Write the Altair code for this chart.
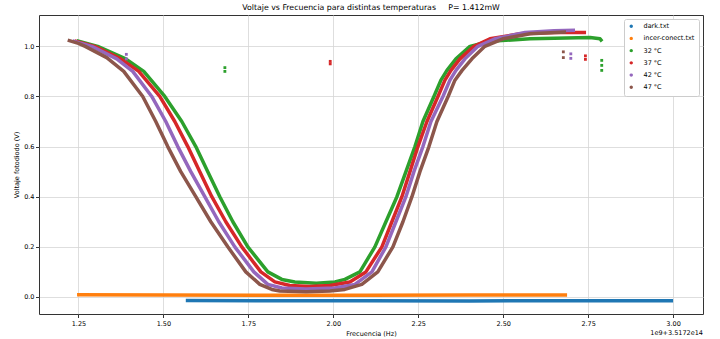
import altair as alt
import pandas as pd

series_names = ["dark.txt", "incer-conect.txt", "32 °C", "37 °C", "42 °C", "47 °C"]
series_colors = ["#1f77b4", "#ff7f0e", "#2ca02c", "#d62728", "#9467bd", "#8c564b"]

# frequency in units of 1e9 Hz above 3.5172e14 Hz, voltage in V
dark_f = [1.566, 1.80, 2.10, 2.40, 2.70, 3.000]
dark_v = [-0.014, -0.015, -0.015, -0.016, -0.015, -0.015]

incer_f = [1.246, 1.50, 1.80, 2.10, 2.40, 2.688]
incer_v = [0.009, 0.008, 0.007, 0.007, 0.008, 0.008]

t32_f = [1.245, 1.3068, 1.3893, 1.4423, 1.5041, 1.5542, 1.5954, 1.6307, 1.6661, 1.7044,
         1.7485, 1.8074, 1.8486, 1.8869, 1.95, 2.0047, 2.0342, 2.0783, 2.1225, 2.1549,
         2.1873, 2.2138, 2.2403, 2.2638, 2.2962, 2.3168, 2.3345, 2.361, 2.4022, 2.4611,
         2.5789, 2.7556, 2.7851, 2.791]
t32_v = [1.022, 1.0, 0.95, 0.9, 0.8, 0.7, 0.6, 0.5, 0.4, 0.3,
         0.2, 0.1, 0.07, 0.06, 0.055, 0.06, 0.07, 0.1, 0.2, 0.3,
         0.4, 0.5, 0.6, 0.7, 0.8, 0.865, 0.904, 0.95, 1.0, 1.02,
         1.03, 1.035, 1.03, 1.02]

t37_f = [1.2391, 1.298, 1.3746, 1.4276, 1.4894, 1.5336, 1.5719, 1.6072, 1.6425, 1.6837,
         1.7308, 1.7868, 1.828, 1.8722, 1.93, 1.99, 2.0489, 2.096, 2.1431, 2.1725,
         2.202, 2.2256, 2.2491, 2.2756, 2.308, 2.3286, 2.3463, 2.3728, 2.414, 2.4611,
         2.5495, 2.65, 2.7438]
t37_v = [1.022, 1.0, 0.95, 0.9, 0.8, 0.7, 0.6, 0.5, 0.4, 0.3,
         0.2, 0.1, 0.06, 0.046, 0.042, 0.046, 0.06, 0.1, 0.2, 0.3,
         0.4, 0.5, 0.6, 0.7, 0.8, 0.865, 0.904, 0.95, 1.0, 1.03,
         1.05, 1.055, 1.055]

t42_f = [1.2332, 1.2892, 1.3628, 1.4099, 1.4658, 1.5071, 1.5424, 1.5807, 1.6219, 1.6631,
         1.7102, 1.7662, 1.8074, 1.8486, 1.92, 2.0047, 2.0636, 2.1137, 2.1549, 2.1843,
         2.2138, 2.2373, 2.2638, 2.2874, 2.3227, 2.3433, 2.361, 2.3875, 2.4258, 2.4758,
         2.5642, 2.65, 2.7114]
t42_v = [1.022, 1.0, 0.95, 0.9, 0.8, 0.7, 0.6, 0.5, 0.4, 0.3,
         0.2, 0.1, 0.05, 0.036, 0.032, 0.036, 0.05, 0.1, 0.2, 0.3,
         0.4, 0.5, 0.6, 0.7, 0.8, 0.865, 0.904, 0.95, 1.0, 1.03,
         1.055, 1.062, 1.064]

t47_f = [1.2185, 1.25, 1.27, 1.3333, 1.3834, 1.4393, 1.4776, 1.5129, 1.5512, 1.5954,
         1.6396, 1.6896, 1.7426, 1.7838, 1.8192, 1.8427, 1.92, 1.99, 2.034, 2.084,
         2.131, 2.1755, 2.205, 2.2315, 2.255, 2.2815, 2.305, 2.338, 2.358, 2.379,
         2.408, 2.446, 2.499, 2.579, 2.685]
t47_v = [1.025, 1.012, 1.0, 0.955, 0.9, 0.8, 0.7, 0.6, 0.5, 0.4,
         0.3, 0.2, 0.1, 0.05, 0.03, 0.024, 0.021, 0.024, 0.03, 0.05,
         0.1, 0.2, 0.3, 0.4, 0.5, 0.6, 0.7, 0.8, 0.865, 0.904,
         0.95, 1.0, 1.03, 1.05, 1.057]

# isolated points away from the curves
out_serie = ["32 °C", "32 °C", "32 °C", "32 °C", "32 °C",
             "37 °C", "37 °C", "37 °C", "37 °C",
             "42 °C", "42 °C", "42 °C", "42 °C",
             "47 °C", "47 °C"]
out_f = [1.681, 1.681, 2.790, 2.790, 2.790,
         1.991, 1.991, 2.742, 2.742,
         2.699, 2.699, 1.391, 1.391,
         2.677, 2.677]
out_v = [0.915, 0.900, 0.944, 0.924, 0.904,
         0.940, 0.930, 0.962, 0.948,
         0.970, 0.952, 0.968, 0.950,
         0.978, 0.955]

x_ticks = [1.25, 1.50, 1.75, 2.00, 2.25, 2.50, 2.75, 3.00]
y_ticks = [0.0, 0.2, 0.4, 0.6, 0.8, 1.0]

title_text = "Voltaje vs Frecuencia para distintas temperaturas\u00a0\u00a0\u00a0\u00a0\u00a0P= 1.412mW"
offset_text = "1e9+3.5172e14"

curves = [
    ("dark.txt", dark_f, dark_v),
    ("incer-conect.txt", incer_f, incer_v),
    ("32 °C", t32_f, t32_v),
    ("37 °C", t37_f, t37_v),
    ("42 °C", t42_f, t42_v),
    ("47 °C", t47_f, t47_v),
]
rows = []
for name, fs, vs in curves:
    for i, (f, v) in enumerate(zip(fs, vs)):
        rows.append({"serie": name, "f": f, "v": v, "i": i})
df = pd.DataFrame(rows)
out_df = pd.DataFrame({"serie": out_serie, "f": out_f, "v": out_v})

FONT = "DejaVu Sans"
xenc = alt.X("f:Q",
             scale=alt.Scale(domain=[1.134, 3.088], nice=False, zero=False),
             axis=alt.Axis(values=x_ticks, format=".2f", title="Frecuencia (Hz)",
                           labelPadding=3, titlePadding=3))
yenc = alt.Y("v:Q",
             scale=alt.Scale(domain=[-0.068, 1.125], nice=False, zero=False),
             axis=alt.Axis(values=y_ticks, format=".1f", title="Voltaje fotodiodo (V)",
                           labelPadding=1.5, titlePadding=4))
cscale = alt.Scale(domain=series_names, range=series_colors)
legend = alt.Legend(title=None, orient="top-right", offset=4, padding=4,
                    fillColor="white", strokeColor="#cccccc", cornerRadius=2,
                    labelFont=FONT, labelFontSize=6.5, labelColor="black",
                    symbolType="circle", symbolSize=3, symbolStrokeWidth=1.6,
                    rowPadding=3.2, labelOffset=9)

layers = []
for name in series_names:
    layers.append(
        alt.Chart(df).transform_filter(alt.datum.serie == name)
        .mark_line(strokeWidth=3.5, strokeJoin="round")
        .encode(x=xenc, y=yenc, order="i:Q",
                color=alt.Color("serie:N", scale=cscale, legend=legend))
    )

points = alt.Chart(out_df).mark_square(size=8, opacity=1).encode(
    x=xenc, y=yenc, color=alt.Color("serie:N", scale=cscale, legend=None))

offset_lbl = alt.Chart(pd.DataFrame({"t": [offset_text]})).mark_text(
    align="right", baseline="middle", font=FONT, fontSize=6.5, color="black"
).encode(text="t:N", x=alt.value(664), y=alt.value(317.5))

chart = alt.layer(*layers, points, offset_lbl).properties(
    width=664, height=299,
    title=alt.Title(title_text, fontSize=7.8, font=FONT, fontWeight="normal",
                    color="black", anchor="middle", offset=3),
    autosize=alt.AutoSizeParams(type="none"),
    padding={"left": 39, "top": 15, "right": 17, "bottom": 25},
).configure_view(stroke="#333333", strokeWidth=1).configure_axis(
    labelFont=FONT, labelFontSize=6.5, labelColor="black",
    titleFont=FONT, titleFontSize=6.5, titleFontWeight="normal", titleColor="black",
    tickColor="black", tickSize=3.5, tickWidth=0.8, domain=False,
    gridColor="#d6d6d6", gridWidth=0.8,
)

chart.save("out.html", embed_options={"renderer": "svg", "actions": False})
